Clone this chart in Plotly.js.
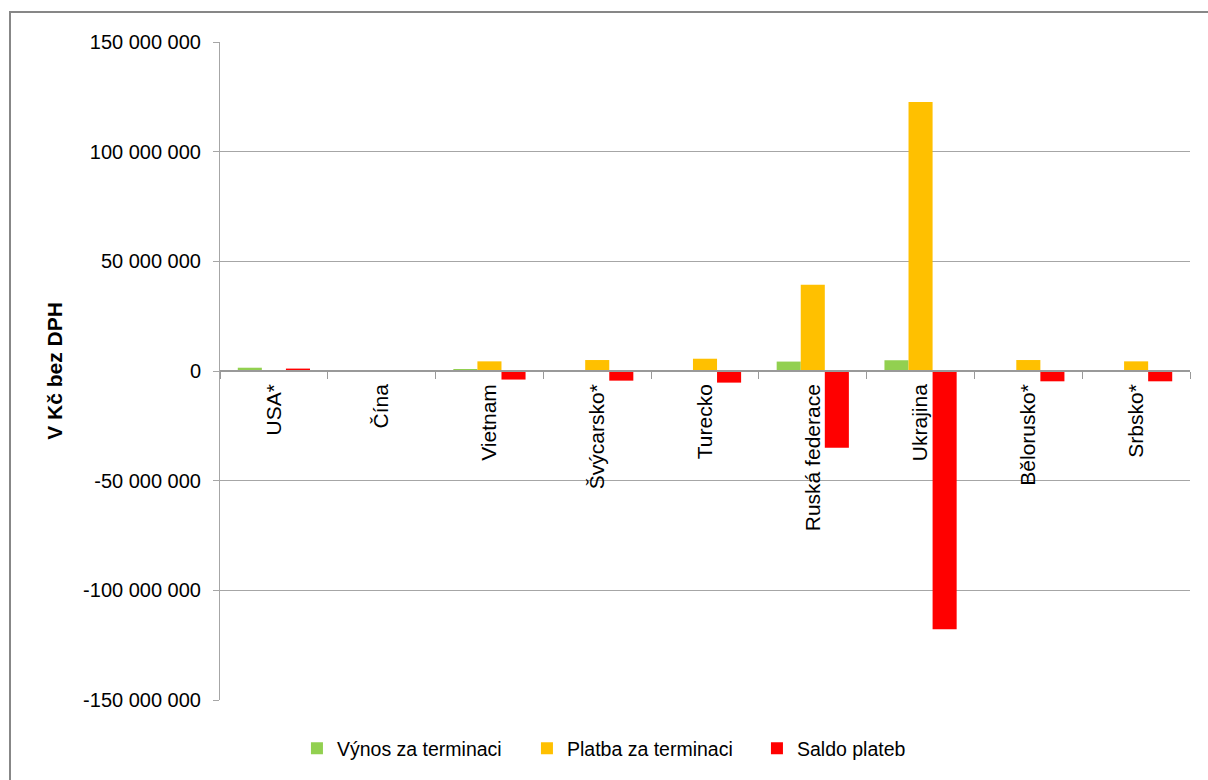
<!DOCTYPE html>
<html>
<head>
<meta charset="utf-8">
<script src="https://cdn.plot.ly/plotly-3.0.1.min.js"></script>
<style>
  html, body { margin: 0; padding: 0; background: #fff; overflow: hidden; }
  #wrap { position: relative; width: 1208px; height: 780px; overflow: hidden; }
  #chart { position: absolute; left: 0; top: 0; width: 1208px; height: 780px; }
  #frame { position: absolute; left: 9px; top: 11px; width: 1300px; height: 900px;
           border: 2px solid #878787; pointer-events: none; }
</style>
</head>
<body>
<div id="wrap">
  <div id="chart"></div>
  <div id="frame"></div>
</div>
<script>
const categories = ["USA*", "Čína", "Vietnam", "Švýcarsko*", "Turecko", "Ruská federace", "Ukrajina", "Bělorusko*", "Srbsko*"];
const seriesNames = ["Výnos za terminaci", "Platba za terminaci", "Saldo plateb"];
const vynos  = [1500000, 0, 900000, 0, 0, 4300000, 4900000, 0, 0];
const platba = [0, 0, 4400000, 5000000, 5600000, 39300000, 122700000, 5000000, 4400000];
const saldo  = [1100000, 0, -3900000, -4400000, -5300000, -35000000, -117800000, -4700000, -4700000];
const yTickVals = [-150000000, -100000000, -50000000, 0, 50000000, 100000000, 150000000];
const yTickText = ["-150 000 000", "-100 000 000", "-50 000 000", "0", "50 000 000", "100 000 000", "150 000 000"];
const yTitle = "V Kč bez DPH";

const colors = ["#92d050", "#ffc000", "#ff0000"];
const values = [vynos, platba, saldo];
const font = "Liberation Sans, Arial, sans-serif";

const traces = values.map((v, i) => ({
  type: "bar",
  name: seriesNames[i],
  x: categories,
  y: v,
  marker: { color: colors[i], line: { width: 0 } },
  hoverinfo: "x+y+name"
}));

const layout = {
  width: 1208, height: 780,
  margin: { l: 220, r: 18, t: 42, b: 77 },
  paper_bgcolor: "#ffffff",
  plot_bgcolor: "#ffffff",
  font: { family: font, size: 19, color: "#000000" },
  barmode: "group",
  bargap: 0.33,
  bargroupgap: 0,
  showlegend: true,
  legend: {
    orientation: "h",
    x: 0.435, xanchor: "center",
    y: -0.074, yanchor: "middle",
    font: { family: font, size: 19.5, color: "#000000" },
    entrywidth: 185,
    entrywidthmode: "pixels",
    traceorder: "normal"
  },
  xaxis: {
    type: "category",
    range: [-0.5, 8.5],
    anchor: "free",
    position: 0.5,
    showline: true,
    linecolor: "#999999",
    linewidth: 1.5,
    ticks: "outside",
    tickson: "boundaries",
    ticklen: 7,
    tickcolor: "#999999",
    tickwidth: 1,
    tickangle: -90,
    ticklabelstandoff: 4,
    showgrid: false,
    zeroline: false,
    tickfont: { family: font, size: 21, color: "#000000" },
    fixedrange: true
  },
  yaxis: {
    range: [-150000000, 150000000],
    tickvals: yTickVals,
    ticktext: yTickText,
    showgrid: true,
    gridcolor: "#a6a6a6",
    gridwidth: 1,
    zeroline: false,
    showline: true,
    linecolor: "#a6a6a6",
    linewidth: 1,
    ticks: "outside",
    ticklen: 6,
    tickcolor: "#a6a6a6",
    ticklabelstandoff: 8,
    tickfont: { family: font, size: 20, color: "#000000" },
    title: { text: yTitle, font: { family: font, size: 21, color: "#000000", weight: "bold" }, standoff: 14 },
    fixedrange: true
  }
};

Plotly.newPlot("chart", traces, layout, { displayModeBar: false });
</script>
</body>
</html>
